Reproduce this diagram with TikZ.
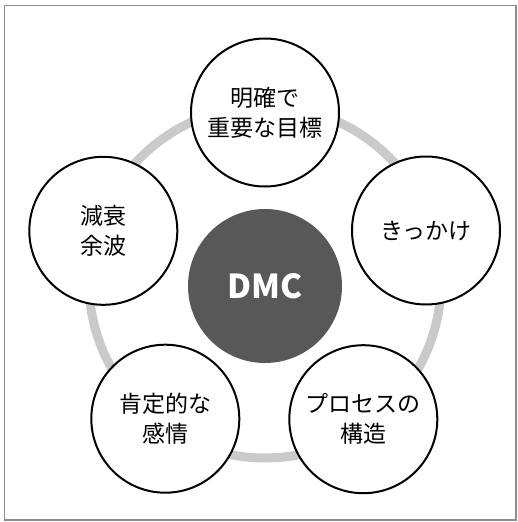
\documentclass[tikz,border=0pt]{standalone}
\usepackage{fontspec}
\newfontfamily\cjk{Noto Sans CJK JP}
\definecolor{ringgray}{RGB}{202,202,202}
\definecolor{coregray}{RGB}{88,88,88}
\definecolor{framegray}{RGB}{140,140,140}
\begin{document}
\begin{tikzpicture}[x=1pt,y=-1pt,
  item/.style={circle,draw=black,line width=2pt,fill=white,minimum size=148pt,inner sep=0pt,align=center,
    font=\cjk\fontsize{23}{30}\selectfont},
  core/.style={circle,fill=coregray,minimum size=154pt,inner sep=0pt,text=white,
    font=\cjk\bfseries\fontsize{33}{38}\selectfont},
  ring/.style={draw=ringgray,line width=9pt},
  frame/.style={draw=framegray,line width=1.5pt}]
\useasboundingbox (0,0) rectangle (518,522);
\fill[white] (0,0) rectangle (518,522);
\draw[frame] (4.5,5.5) rectangle (516,520);
\coordinate (ctr) at (265,282);
\draw[ring] (ctr) circle[radius=176pt];
\node[core] (dmc) at (265,286) {DMC};
\node[item] (goal) at (265,112.5) {明確で\\重要な目標};
\node[item] (trig) at (426,230.5) {きっかけ};
\node[item] (proc) at (363.3,419.2) {プロセスの\\構造};
\node[item] (emo) at (165.3,418.7) {肯定的な\\感情};
\node[item] (decay) at (103.3,230.8) {減衰\\余波};
\end{tikzpicture}
\end{document}
